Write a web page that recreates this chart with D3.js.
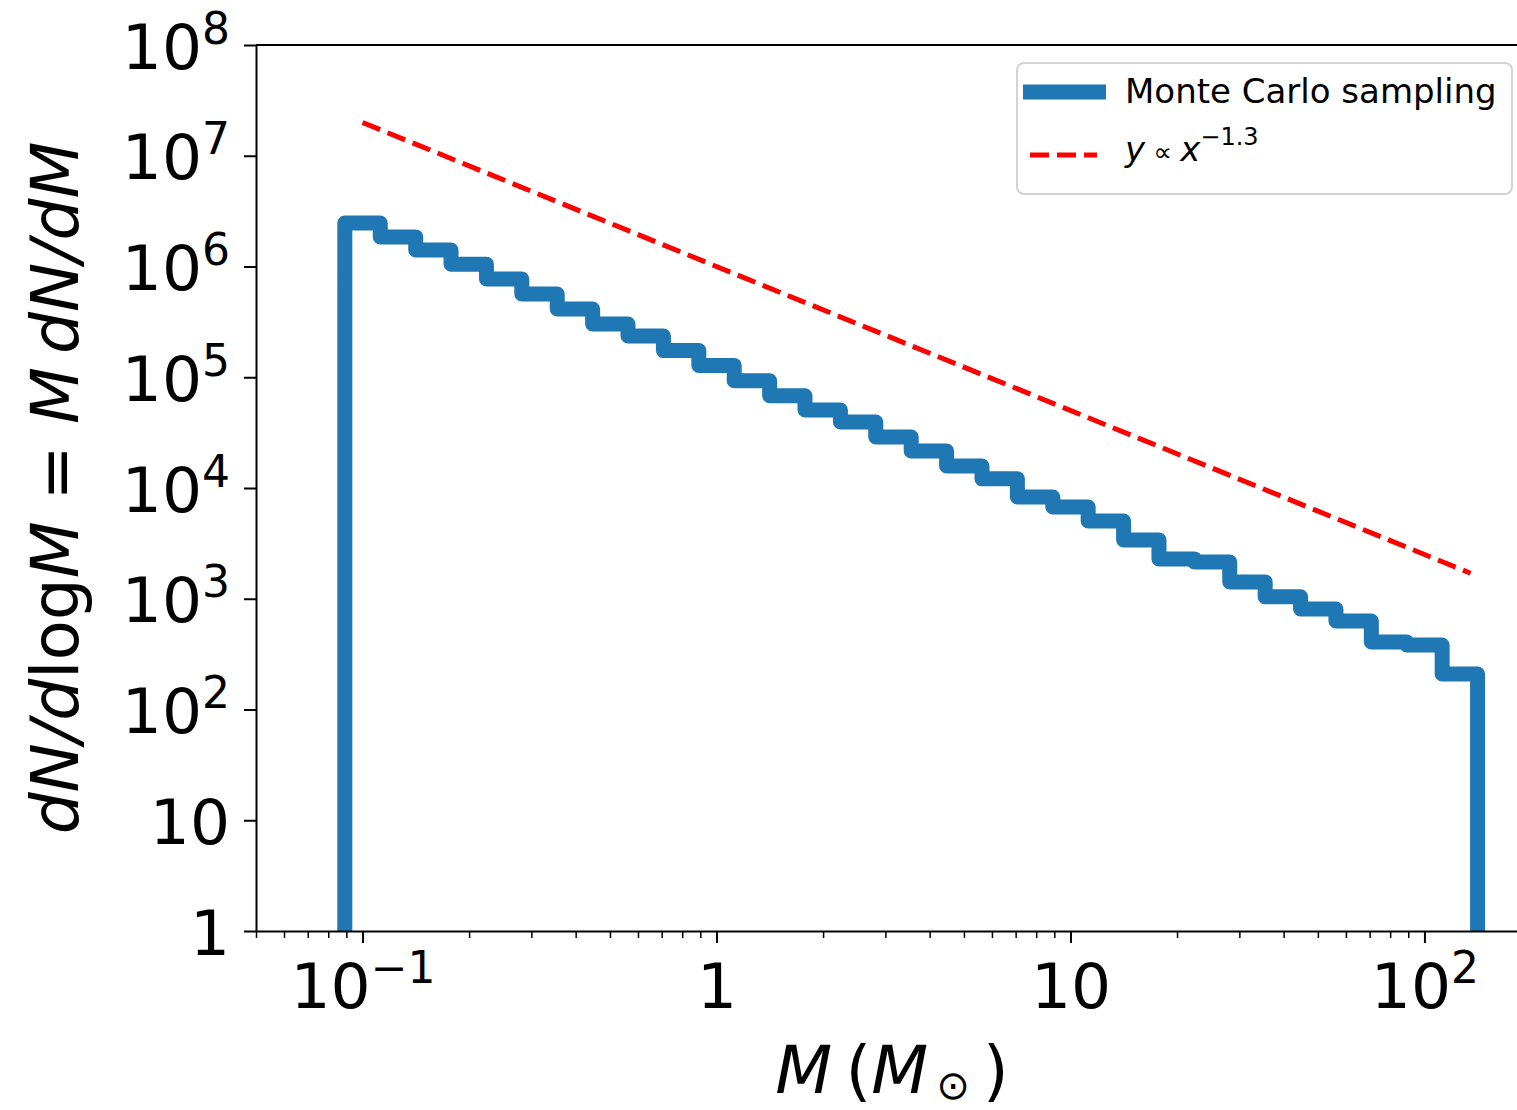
<!DOCTYPE html>
<html>
<head>
<meta charset="utf-8">
<script src="https://cdn.jsdelivr.net/npm/d3@7"></script>
<style>
  html, body { margin: 0; padding: 0; background: #fff; }
  svg { display: block; }
  text { font-family: "DejaVu Sans", sans-serif; fill: #000; }
</style>
</head>
<body>
<svg id="chart" width="1517" height="1110"></svg>
<script>
// Bin edges of the mass histogram (solar masses, 0.1 dex wide)
const binEdges = [0.0891, 0.1122, 0.1413, 0.1778, 0.2239, 0.2818, 0.3548, 0.4467,
  0.5623, 0.7079, 0.8913, 1.122, 1.413, 1.778, 2.239, 2.818, 3.548, 4.467,
  5.623, 7.079, 8.913, 11.22, 14.13, 17.78, 22.39, 28.18, 35.48, 44.67,
  56.23, 70.79, 89.13, 112.2, 141.3];

// dN/dlogM in each bin from the Monte Carlo sample
const binCounts = [2.47e6, 1.85e6, 1.41e6, 1.05e6, 7.71e5, 5.65e5, 4.13e5, 3.03e5,
  2.36e5, 1.74e5, 1.28e5, 9.31e4, 6.81e4, 5.06e4, 3.94e4, 2.89e4, 2.16e4, 1.58e4,
  1.21e4, 8.30e3, 6.74e3, 5.04e3, 3.40e3, 2.29e3, 2.15e3, 1.42e3, 1.04e3, 808,
  630, 407, 382, 209];

// Reference power law y = A * M^-1.3 between its two end masses
const powerLawMass = [0.1, 135];
const powerLawAmp = 1.0e6;
const powerLawIndex = -1.3;

// Axis ticks and labels ("^" marks the exponent)
const xTickValues = [0.1, 1, 10, 100];
const xTickLabels = ["10^\u22121", "1", "10", "10^2"];
const yTickValues = [1, 10, 1e2, 1e3, 1e4, 1e5, 1e6, 1e7, 1e8];
const yTickLabels = ["1", "10", "10^2", "10^3", "10^4", "10^5", "10^6", "10^7", "10^8"];

const legendLabels = ["Monte Carlo sampling", "y \u221D x^\u22121.3"];

const blue = "#1f77b4";
const red = "#ff0000";

const svg = d3.select("#chart");
const plot = { left: 256, right: 1531, top: 45, bottom: 931 };

const x = d3.scaleLog().domain([0.05, 200]).range([plot.left, plot.right]);
const y = d3.scaleLog().domain([1, 1e8]).range([plot.bottom, plot.top]);

svg.append("defs").append("clipPath").attr("id", "plotClip")
  .append("rect")
  .attr("x", plot.left).attr("y", plot.top)
  .attr("width", plot.right - plot.left).attr("height", plot.bottom - plot.top);

// Step outline of the histogram, dropping to the floor at both ends
const floorValue = 0.1;
const stepPts = [[binEdges[0], floorValue]];
binCounts.forEach((c, i) => {
  stepPts.push([binEdges[i], c]);
  stepPts.push([binEdges[i + 1], c]);
});
stepPts.push([binEdges[binEdges.length - 1], floorValue]);

const line = d3.line().x(d => x(d[0])).y(d => y(Math.max(d[1], 1e-3)));

const marks = svg.append("g").attr("clip-path", "url(#plotClip)");
marks.append("path")
  .datum(stepPts)
  .attr("d", line)
  .attr("fill", "none")
  .attr("stroke", blue)
  .attr("stroke-width", 15)
  .attr("stroke-linejoin", "round")
  .attr("stroke-linecap", "butt");

const lawPts = powerLawMass.map(m => [m, powerLawAmp * Math.pow(m, powerLawIndex)]);
marks.append("path")
  .datum(lawPts)
  .attr("d", line)
  .attr("fill", "none")
  .attr("stroke", red)
  .attr("stroke-width", 5)
  .attr("stroke-dasharray", "19,8");

// Render "base^exp" as text with a raised exponent
function mathLabel(sel, label, size, supSize, supShift) {
  const parts = label.split("^");
  sel.text(null);
  sel.append("tspan").text(parts[0]).attr("font-size", size);
  if (parts.length > 1) {
    sel.append("tspan").text(parts[1]).attr("font-size", supSize).attr("dy", -supShift);
  }
}

// Axes
const tickFont = 63;
const supFont = 44;
const xAxisG = svg.append("g").attr("transform", `translate(0,${plot.bottom})`);
const xMinor = x.ticks().filter(v => !xTickValues.some(t => Math.abs(t - v) / t < 1e-6));
xAxisG.append("g")
  .call(d3.axisBottom(x).tickValues(xMinor).tickSize(7).tickFormat(() => ""))
  .call(g => g.select(".domain").remove())
  .call(g => g.selectAll(".tick line").attr("stroke-width", 1.5));
xAxisG.append("g")
  .call(d3.axisBottom(x).tickValues(xTickValues).tickSize(12).tickSizeOuter(0)
    .tickFormat((d, i) => xTickLabels[i]))
  .call(g => g.select(".domain").attr("stroke-width", 2))
  .call(g => g.selectAll(".tick line").attr("stroke-width", 2))
  .call(g => g.selectAll(".tick text").each(function (d, i) {
    const t = d3.select(this).attr("y", 77).attr("dy", 0).attr("fill", "#000");
    mathLabel(t, xTickLabels[i], tickFont, supFont, 25);
  }));

const yAxisG = svg.append("g").attr("transform", `translate(${plot.left},0)`);
yAxisG.call(d3.axisLeft(y).tickValues(yTickValues).tickSize(12).tickSizeOuter(0)
    .tickPadding(14).tickFormat((d, i) => yTickLabels[i]))
  .call(g => g.select(".domain").attr("stroke-width", 2))
  .call(g => g.selectAll(".tick line").attr("stroke-width", 2))
  .call(g => g.selectAll(".tick text").each(function (d, i) {
    const t = d3.select(this).attr("dy", 23).attr("fill", "#000");
    mathLabel(t, yTickLabels[i], tickFont, supFont, 25);
  }));

// Top spine
svg.append("line")
  .attr("x1", plot.left).attr("x2", plot.right)
  .attr("y1", plot.top).attr("y2", plot.top)
  .attr("stroke", "#000").attr("stroke-width", 2);

// Axis titles
const labelFont = 66;
const yTitle = svg.append("text")
  .attr("transform", "translate(78,488) rotate(-90)")
  .attr("text-anchor", "middle")
  .attr("font-size", labelFont);
[["dN/d", "italic"], ["log", "normal"], ["M", "italic"], [" = ", "normal"],
 ["M\u2009dN/dM", "italic"]].forEach(([s, st]) =>
  yTitle.append("tspan").text(s).attr("font-style", st));

const xTitle = svg.append("text")
  .attr("x", 892).attr("y", 1093)
  .attr("text-anchor", "middle")
  .attr("font-size", labelFont);
xTitle.append("tspan").text("M").attr("font-style", "italic");
xTitle.append("tspan").text("\u2009(").attr("font-style", "normal");
xTitle.append("tspan").text("M").attr("font-style", "italic");
xTitle.append("tspan").text("\u2009\u2299").attr("font-size", 40).attr("dy", 6);
xTitle.append("tspan").text("\u2009)").attr("dy", -6);

// Legend
const legend = svg.append("g");
legend.append("rect")
  .attr("x", 1017).attr("y", 63).attr("width", 495).attr("height", 131)
  .attr("rx", 7)
  .attr("fill", "rgba(255,255,255,0.8)")
  .attr("stroke", "#d3d3d3").attr("stroke-width", 2);

legend.append("line")
  .attr("x1", 1023).attr("x2", 1106).attr("y1", 92).attr("y2", 92)
  .attr("stroke", blue).attr("stroke-width", 15);
legend.append("text")
  .attr("x", 1125).attr("y", 103)
  .attr("font-size", 34).attr("fill", "#1a1a1a")
  .text(legendLabels[0]);

legend.append("line")
  .attr("x1", 1030).attr("x2", 1097).attr("y1", 155).attr("y2", 155)
  .attr("stroke", red).attr("stroke-width", 5)
  .attr("stroke-dasharray", "19,8");
const lawText = legend.append("text")
  .attr("x", 1125).attr("y", 161)
  .attr("font-size", 34).attr("fill", "#1a1a1a");
const lawParts = legendLabels[1].split("^");
lawText.append("tspan").text(lawParts[0].split(" ")[0]).attr("font-style", "italic");
lawText.append("tspan").text(" " + lawParts[0].split(" ")[1] + " ").attr("font-size", 26);
lawText.append("tspan").text(lawParts[0].split(" ")[2]).attr("font-style", "italic");
lawText.append("tspan").text(lawParts[1]).attr("font-size", 24).attr("dy", -16);
</script>
</body>
</html>
